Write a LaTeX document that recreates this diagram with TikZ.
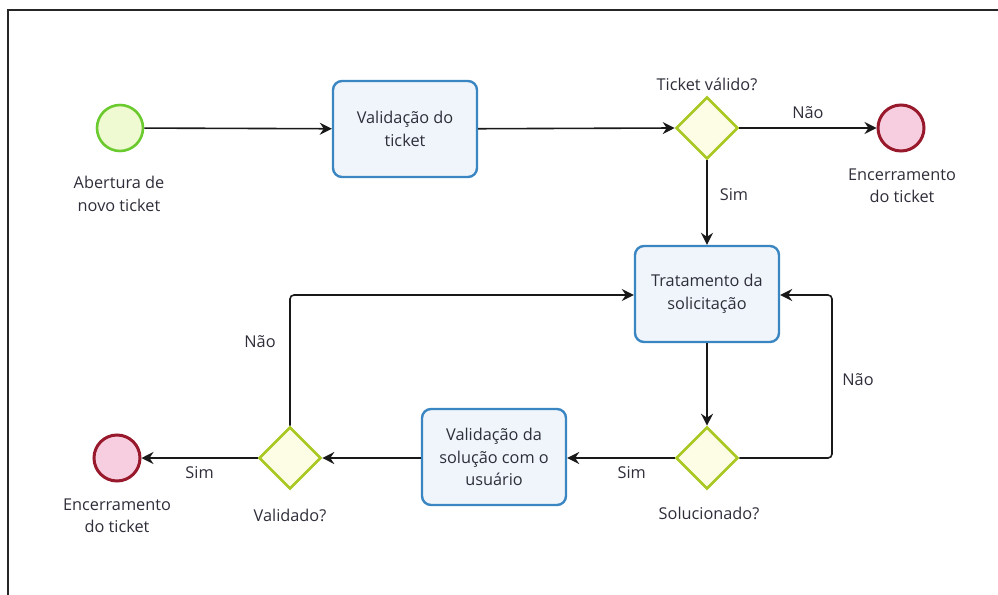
\documentclass[tikz,border=0pt]{standalone}
\usepackage{fontspec}
\setmainfont{Open Sans}
\usetikzlibrary{arrows.meta,shapes.geometric}
\definecolor{txt}{HTML}{2E2E3A}
\definecolor{startdraw}{HTML}{6BCB2E}
\definecolor{startfill}{HTML}{F0FAD2}
\definecolor{taskdraw}{HTML}{3A86C2}
\definecolor{taskfill}{HTML}{F0F5FB}
\definecolor{gatedraw}{HTML}{A9C822}
\definecolor{gatefill}{HTML}{FDFDE6}
\definecolor{enddraw}{HTML}{98182C}
\definecolor{endfill}{HTML}{F7CEDF}
\tikzset{
  lbl/.style={font=\fontsize{16.3pt}{22.5pt}\selectfont, text=txt, align=center, inner sep=0pt},
  startev/.style={circle, draw=startdraw, fill=startfill, line width=2.6pt, minimum size=46pt, inner sep=0pt},
  endev/.style={circle, draw=enddraw, fill=endfill, line width=3pt, minimum size=46pt, inner sep=0pt},
  taskbox/.style={rectangle, rounded corners=9pt, draw=taskdraw, fill=taskfill, line width=2.4pt,
    minimum width=144pt, minimum height=96pt, inner sep=0pt, align=center, text=txt,
    font=\fontsize{16.3pt}{22.5pt}\selectfont},
  gate/.style={diamond, draw=gatedraw, fill=gatefill, line width=2.6pt, minimum width=62pt, minimum height=62pt, inner sep=0pt, aspect=1},
  flow/.style={draw=black!90, line width=1.6pt, -{Stealth[length=12pt,width=12pt,inset=4pt]}, rounded corners=4pt},
}
\begin{document}
\begin{tikzpicture}[x=1pt,y=-1pt]
\useasboundingbox (0,0) rectangle (998,594);
\draw[line width=2pt, draw=black!85] (8,600) -- (8,10) -- (1000,10);

\node[startev] (start) at (120,128) {};
\node[lbl] (startlbl) at (119,194) {Abertura de\\novo ticket};

\node[taskbox] (t1) at (405,129) {Validação do\\ticket};

\node[gate] (g1) at (707,128) {};
\node[lbl] (g1lbl) at (707,84) {Ticket válido?};

\node[endev] (e1) at (901,128) {};
\node[lbl] (e1lbl) at (902,186) {Encerramento\\do ticket};

\node[taskbox] (t2) at (707,294) {Tratamento da\\solicitação};

\node[gate] (g2) at (707,458) {};
\node[lbl] (g2lbl) at (709,513) {Solucionado?};

\node[taskbox] (t3) at (494,457) {Validação da\\solução com o\\usuário};

\node[gate] (g3) at (290,458) {};
\node[lbl] (g3lbl) at (290,515) {Validado?};

\node[endev] (e2) at (117,458) {};
\node[lbl] (e2lbl) at (117,516) {Encerramento\\do ticket};

\coordinate (c1) at (832,458);
\coordinate (c2) at (832,295);
\coordinate (c3) at (290,295);

\draw[flow] (start) -- (t1);
\draw[flow] (t1) -- (g1.west);
\draw[flow] (g1.east) -- node[lbl, above=9pt] (n1) {Não} (e1);
\draw[flow] (g1.south) -- node[lbl, right=12pt, pos=0.4] (s1) {Sim} (t2);
\draw[flow] (t2) -- (g2.north);
\draw[flow] (g2.east) -- (c1) -- (c2) -- (t2.east |- c2);
\node[lbl] (n2) at (858,380) {Não};
\draw[flow] (g2.west) -- node[lbl, below=8pt, pos=0.4] (s2) {Sim} (t3.east |- g2);
\draw[flow] (t3.west |- g3) -- (g3.east);
\draw[flow] (g3.west) -- node[lbl, below=8pt] (s3) {Sim} (e2);
\draw[flow] (g3.north) -- (c3) -- (t2.west |- c3);
\node[lbl] (n3) at (260,342) {Não};
\end{tikzpicture}
\end{document}
